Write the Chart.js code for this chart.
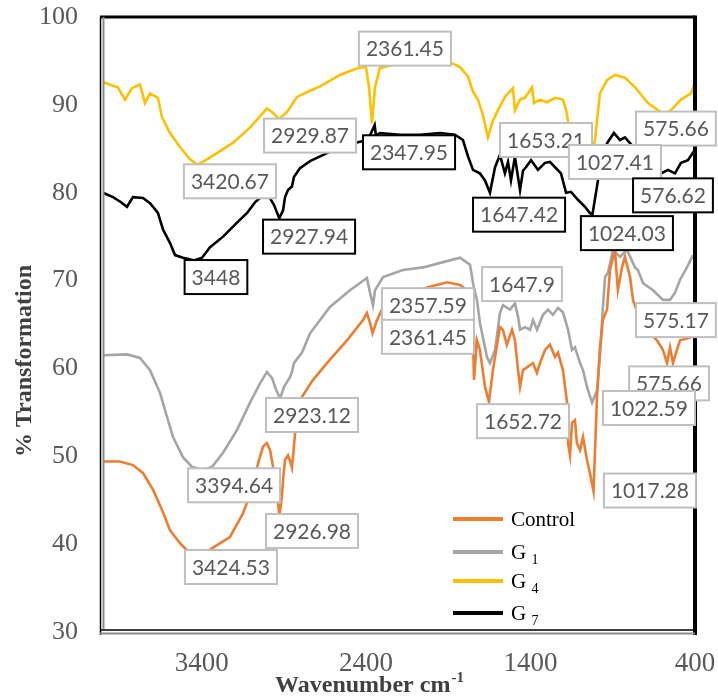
<!DOCTYPE html>
<html>
<head>
<meta charset="utf-8">
<script src="https://cdn.jsdelivr.net/npm/chart.js@4.4.1/dist/chart.umd.min.js"></script>
<style>
  html, body { margin: 0; padding: 0; background: #fff; }
  #wrap { position: relative; width: 718px; height: 696px; }
</style>
</head>
<body>
<div id="wrap"><canvas id="ftir"></canvas></div>
<script>

// Control spectrum (wavenumber cm-1, % transformation)
var controlWn = [4000,3897,3818,3757,3696,3641,3593,3532,3489,3424,3380,3331,3228,3149,3088,3057,3027,3003,2984,2966,2942,2927,2912,2905,2893,2875,2863,2851,2845,2832,2802,2723,2620,2516,2419,2395,2376,2361,2334,2297,2194,2012,1908,1829,1793,1768,1756,1750,1744,1726,1708,1677,1653,1629,1586,1568,1544,1513,1495,1476,1464,1446,1416,1385,1361,1343,1312,1282,1251,1233,1203,1178,1172,1160,1148,1130,1118,1099,1081,1057,1039,1017,996,978,960,935,917,887,869,844,826,795,777,735,674,631,595,570,552,534,510,491,430,400];
var controlT = [49.4,49.4,49.0,48.1,46.2,43.9,41.6,40.1,39.3,38.9,39.0,39.6,40.8,43.5,46.5,49.2,51.1,51.5,50.7,48.8,45.8,43.2,45.4,47.3,49.6,50.1,49.5,48.7,49.9,52.6,56.4,58.7,61.0,63.2,65.5,66.3,65.2,64.0,65.5,67.0,68.3,69.3,69.8,69.5,69.0,68.0,66.0,63.6,58.7,63.2,62.1,57.9,56.2,59.8,64.7,64.4,62.7,64.4,63.2,59.8,57.9,59.8,60.2,60.6,59.5,60.6,62.1,62.7,61.3,61.8,59.8,56.1,51.5,50.1,53.8,54.1,51.5,50.7,52.2,49.6,48.1,46.0,56.8,62.4,65.5,66.7,71.2,73.5,68.9,71.5,72.7,70.4,67.8,65.5,64.0,63.2,62.1,60.6,62.4,60.6,62.1,63.2,63.5,64.0];

// G1
var g1Wn = [4000,3854,3775,3714,3653,3611,3574,3514,3459,3392,3337,3270,3185,3106,3045,3003,2972,2948,2923,2899,2863,2851,2839,2790,2741,2620,2498,2395,2376,2358,2346,2297,2176,2054,1932,1829,1768,1750,1726,1708,1665,1647,1616,1586,1568,1525,1495,1476,1464,1434,1403,1385,1361,1324,1294,1264,1233,1203,1172,1148,1130,1099,1081,1057,1026,996,978,960,947,929,899,856,814,765,747,716,655,595,552,522,491,449,412];
var g1T = [61.5,61.6,61.2,59.8,57.2,54.5,52.2,49.9,48.8,48.4,48.8,50.4,53.0,56.1,58.3,59.6,58.9,57.6,56.6,57.9,59.0,59.6,60.6,61.8,64.0,67.0,68.9,70.3,68.6,67.2,68.9,70.4,71.2,71.5,72.1,72.6,71.8,69.7,67.8,65.2,61.3,60.6,62.1,66.3,67.2,66.7,67.4,65.9,64.4,64.7,64.4,65.5,64.4,66.1,66.7,66.1,66.9,66.4,64.4,62.1,62.4,60.6,59.8,57.9,56.1,57.5,61.3,67.0,70.4,70.9,73.5,72.7,73.5,71.5,71.2,69.7,68.9,67.8,67.8,68.6,70.1,71.5,72.9];

// G4
var g4Wn = [4000,3957,3909,3866,3824,3775,3745,3714,3666,3641,3593,3532,3471,3428,3392,3307,3209,3106,3003,2972,2930,2881,2820,2741,2680,2559,2449,2401,2382,2364,2346,2316,2224,2072,1884,1829,1780,1750,1720,1689,1659,1629,1598,1556,1507,1495,1464,1434,1391,1379,1343,1300,1251,1203,1184,1166,1130,1081,1030,1008,978,935,887,826,765,686,625,583,546,485,424,400];
var g4T = [92.6,92.3,92.0,90.6,91.9,92.3,90.2,91.3,90.8,88.6,86.8,85.2,83.8,83.2,83.5,84.5,85.7,87.4,89.6,89.2,88.4,89.2,90.9,91.6,92.1,93.4,94.2,94.3,92.0,87.9,92.0,94.2,94.6,94.8,94.8,94.3,93.2,91.5,90.6,88.8,86.3,88.2,89.4,90.9,91.9,89.4,90.6,90.8,92.0,90.2,90.6,90.3,90.8,90.6,89.4,87.5,86.0,85.0,84.6,86.0,91.3,92.8,93.4,93.1,92.0,90.2,89.4,88.9,89.4,90.6,91.3,92.6];

// G7
var g7Wn = [4000,3939,3897,3854,3818,3757,3714,3666,3635,3593,3562,3514,3448,3398,3349,3270,3185,3124,3076,3033,2991,2960,2928,2905,2893,2875,2851,2839,2802,2741,2638,2528,2437,2389,2348,2340,2316,2194,2072,1951,1860,1811,1780,1750,1708,1677,1647,1616,1586,1556,1537,1519,1495,1464,1446,1428,1397,1355,1312,1282,1251,1215,1184,1154,1112,1069,1040,1024,990,966,929,893,856,826,789,735,674,607,564,522,485,443,400];
var g7T = [80.0,79.5,79.0,78.4,79.5,79.4,78.8,77.7,75.8,74.3,72.9,72.6,72.3,72.6,73.8,75.0,76.6,77.7,78.9,79.6,79.6,78.6,77.1,78.0,79.5,80.3,80.7,81.8,82.8,83.6,84.5,85.4,85.8,86.0,87.7,86.5,86.8,86.6,86.6,86.8,86.6,86.0,84.1,82.6,82.2,81.4,80.0,82.9,84.3,82.2,83.5,81.4,84.1,80.3,82.5,82.9,83.7,82.6,83.4,83.5,82.9,82.2,80.0,80.1,79.2,78.4,77.7,77.5,81.4,84.5,85.8,86.8,86.0,86.3,85.5,84.0,83.0,82.2,82.6,82.2,83.4,83.7,84.9];

var seriesNames = ['Control', 'G', 'G', 'G'];
var seriesSubs = ['', '1', '4', '7'];
var xTickValues = [3400, 2400, 1400, 400];

// Peak callouts: text, series index (0 Control, 1 G1, 2 G4, 3 G7)
var peakTexts = ['3420.67','2929.87','3448','2927.94','2361.45','2347.95','1653.21','1647.42','575.66','1027.41','576.62','1024.03','1647.9','2357.59','2361.45','575.17','575.66','1022.59','1652.72','2923.12','3394.64','2926.98','1017.28','3424.53'];
var peakSeries = [2,2,3,3,2,3,2,3,2,2,3,3,1,1,0,1,0,1,0,1,1,0,0,0];


// Where each callout box sits (centre, in wavenumber / % units)
var calloutPlaces = [
	[3228, 81.3], [2741, 86.5], [3313, 70.4], [2747, 75.0], [2164, 96.4], [2139, 84.6],
	[1306, 86.0], [1470, 77.5], [516, 87.3], [887, 83.5], [534, 79.7], [814, 75.4],
	[1452, 69.6], [2024, 67.2], [2024, 63.6], [516, 65.5], [558, 58.3], [680, 55.5],
	[1446, 54.0], [2729, 54.7], [3203, 46.7], [2729, 41.5], [674, 46.1], [3222, 37.4]
];

var colours = ['#ED7D31', '#A5A5A5', '#FFC000', '#000000'];

function pairUp(wn, t) {
	return wn.map(function (w, i) { return { x: w, y: t[i] }; });
}

var decor = {
	id: 'decor',
	afterDatasetsDraw: function (chart) {
		var ctx = chart.ctx;
		var ca = chart.chartArea;
		var xs = chart.scales.x, ys = chart.scales.y;
		ctx.save();

		// Plot frame
		ctx.lineCap = 'butt';
		ctx.strokeStyle = '#000';
		ctx.lineWidth = 3;
		ctx.beginPath();
		ctx.moveTo(ca.left - 3, ca.top);
		ctx.lineTo(ca.right, ca.top);
		ctx.stroke();
		ctx.lineWidth = 4;
		ctx.beginPath();
		ctx.moveTo(ca.right, ca.top - 1.5);
		ctx.lineTo(ca.right, ca.bottom + 3);
		ctx.stroke();
		ctx.lineWidth = 1.5;
		ctx.beginPath();
		ctx.moveTo(ca.left - 2.5, ca.top);
		ctx.lineTo(ca.left - 2.5, ca.bottom + 3);
		ctx.moveTo(ca.left - 2.5, ca.bottom - 2);
		ctx.lineTo(ca.right, ca.bottom - 2);
		ctx.stroke();
		ctx.strokeStyle = '#8c8c8c';
		ctx.lineWidth = 2;
		ctx.beginPath();
		ctx.moveTo(ca.left + 0.5, ca.top);
		ctx.lineTo(ca.left + 0.5, ca.bottom - 3);
		ctx.moveTo(ca.left - 3, ca.bottom + 1.5);
		ctx.lineTo(ca.right, ca.bottom + 1.5);
		ctx.stroke();

		// Peak callouts
		ctx.font = '21px Lato';
		ctx.textAlign = 'center';
		ctx.textBaseline = 'middle';
		peakTexts.forEach(function (txt, i) {
			var cx = xs.getPixelForValue(calloutPlaces[i][0]);
			var cy = ys.getPixelForValue(calloutPlaces[i][1]);
			var w = ctx.measureText(txt).width + 14, h = 34;
			ctx.fillStyle = '#fff';
			ctx.fillRect(cx - w / 2, cy - h / 2, w, h);
			ctx.lineWidth = 2;
			ctx.strokeStyle = peakSeries[i] == 3 ? '#000' : '#BFBFBF';
			ctx.strokeRect(cx - w / 2, cy - h / 2, w, h);
			ctx.fillStyle = '#595959';
			ctx.fillText(txt, cx, cy + 1);
		});

		// Legend inside the plot
		var rows = [113, 80, 51, 19];
		ctx.textAlign = 'left';
		seriesNames.forEach(function (name, i) {
			var y = ca.bottom - rows[i];
			ctx.strokeStyle = colours[i];
			ctx.lineWidth = 4;
			ctx.beginPath();
			ctx.moveTo(ca.left + 350, y);
			ctx.lineTo(ca.left + 400, y);
			ctx.stroke();
			ctx.fillStyle = '#000';
			ctx.font = '21px "Liberation Serif"';
			ctx.fillText(name, ca.left + 408, y + 1);
			if (seriesSubs[i]) {
				var nw = ctx.measureText(name + ' ').width;
				ctx.font = '14px "Liberation Serif"';
				ctx.fillText(seriesSubs[i], ca.left + 408 + nw, y + 8);
			}
		});

		// Axis titles
		ctx.fillStyle = '#404040';
		ctx.font = 'bold 24px "Liberation Serif"';
		ctx.save();
		ctx.translate(25, ca.top + 344);
		ctx.rotate(-Math.PI / 2);
		ctx.textAlign = 'center';
		ctx.fillText('% Transformation', 0, 0);
		ctx.restore();

		ctx.textBaseline = 'alphabetic';
		ctx.textAlign = 'left';
		var main = 'Wavenumber cm', sup = '-1';
		var mw = ctx.measureText(main).width;
		ctx.font = 'bold 15px "Liberation Serif"';
		var sw = ctx.measureText(sup).width;
		var sx = ca.left + 266 - (mw + sw) / 2;
		ctx.font = 'bold 24px "Liberation Serif"';
		ctx.fillText(main, sx, ca.bottom + 60);
		ctx.font = 'bold 15px "Liberation Serif"';
		ctx.fillText(sup, sx + mw + 1, ca.bottom + 50);

		ctx.restore();
	}
};

new Chart(document.getElementById('ftir').getContext('2d'), {
	type: 'line',
	data: {
		datasets: [
			{ label: 'Control', data: pairUp(controlWn, controlT), borderColor: colours[0] },
			{ label: 'G1', data: pairUp(g1Wn, g1T), borderColor: colours[1] },
			{ label: 'G4', data: pairUp(g4Wn, g4T), borderColor: colours[2] },
			{ label: 'G7', data: pairUp(g7Wn, g7T), borderColor: colours[3] }
		]
	},
	options: {
		responsive: true,
		maintainAspectRatio: false,
		animation: false,
		layout: { padding: { top: 17, right: 23, bottom: 0, left: 0 } },
		elements: {
			point: { radius: 0 },
			line: { borderWidth: 2.6, tension: 0, fill: false }
		},
		plugins: {
			legend: { display: false },
			tooltip: { enabled: false }
		},
		scales: {
			x: {
				type: 'linear',
				reverse: true,
				min: 400,
				max: 4000,
				grid: { display: false, drawTicks: false },
				border: { display: false },
				afterBuildTicks: function (s) {
					s.ticks = xTickValues.map(function (v) { return { value: v }; });
				},
				afterFit: function (s) {
					s.height = 64;
					s.paddingLeft = 0;
					s.paddingRight = 0;
				},
				ticks: {
					padding: 16,
					maxRotation: 0,
					color: '#595959',
					font: { family: 'Liberation Serif', size: 27 },
					callback: function (v) { return String(v); }
				}
			},
			y: {
				min: 30,
				max: 100,
				grid: { display: false, drawTicks: false },
				border: { display: false },
				afterFit: function (s) {
					s.width = 103;
					s.paddingTop = 0;
					s.paddingBottom = 0;
				},
				ticks: {
					stepSize: 10,
					padding: 25,
					color: '#595959',
					font: { family: 'Liberation Serif', size: 26 }
				}
			}
		}
	},
	plugins: [decor]
});
</script>
</body>
</html>
